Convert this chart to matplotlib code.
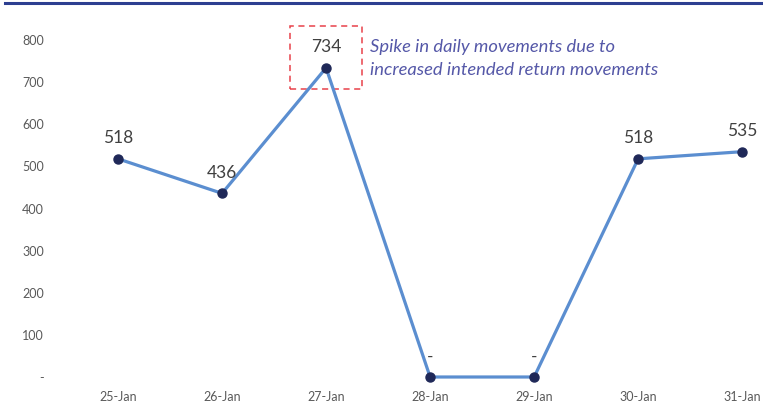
import matplotlib.pyplot as plt
import matplotlib.patches as patches
from matplotlib.lines import Line2D

dates = ["25-Jan", "26-Jan", "27-Jan", "28-Jan", "29-Jan", "30-Jan", "31-Jan"]
movements = [518, 436, 734, 0, 0, 518, 535]
labels = ["518", "436", "734", "-", "-", "518", "535"]
y_ticks = [0, 100, 200, 300, 400, 500, 600, 700, 800]
y_tick_labels = ["-", "100", "200", "300", "400", "500", "600", "700", "800"]
note = "Spike in daily movements due to\nincreased intended return movements"

plt.rcParams["font.family"] = ["Lato", "DejaVu Sans"]

fig = plt.figure(figsize=(7.63, 4.05), dpi=100)
ax = fig.add_axes([66 / 763, 1 - 377 / 405, 1 - 66 / 763, (377 - 19) / 405])

x = list(range(len(dates)))
ax.plot(x, movements, color="#5B8ED0", linewidth=2.3, zorder=2, clip_on=False)
ax.plot(x, movements, "o", color="#1F2858", markersize=6.5, zorder=3, clip_on=False)

for i, (v, lab) in enumerate(zip(movements, labels)):
    ax.annotate(lab, (i, v), xytext=(0, 9), textcoords="offset points",
                ha="center", va="bottom", fontsize=12.5, color="#404040")

ax.set_xlim(-0.5, 6.2)
ax.set_ylim(0, 850)
ax.set_xticks(x)
ax.set_xticklabels(dates, fontsize=9, color="#595959")
ax.set_yticks(y_ticks)
ax.set_yticklabels(y_tick_labels, fontsize=9, color="#595959")
ax.tick_params(length=0)
ax.tick_params(axis="x", pad=10)
ax.tick_params(axis="y", pad=16)
for s in ax.spines.values():
    s.set_visible(False)

# dashed highlight round the spike
box = patches.Rectangle((1.65, 683), 0.70, 150, fill=False, edgecolor="#E8414A",
                        linestyle=(0, (4, 3)), linewidth=1.1, clip_on=False)
ax.add_patch(box)
ax.text(2.42, 756, note, fontsize=13.2, style="italic", color="#5558A8",
        va="center", ha="left", linespacing=1.5)

fig.add_artist(Line2D([5 / 763, 1], [1 - 3 / 405, 1 - 3 / 405], color="#2D3F91",
                      linewidth=2.2, transform=fig.transFigure))

plt.savefig("out.png", dpi=100)
